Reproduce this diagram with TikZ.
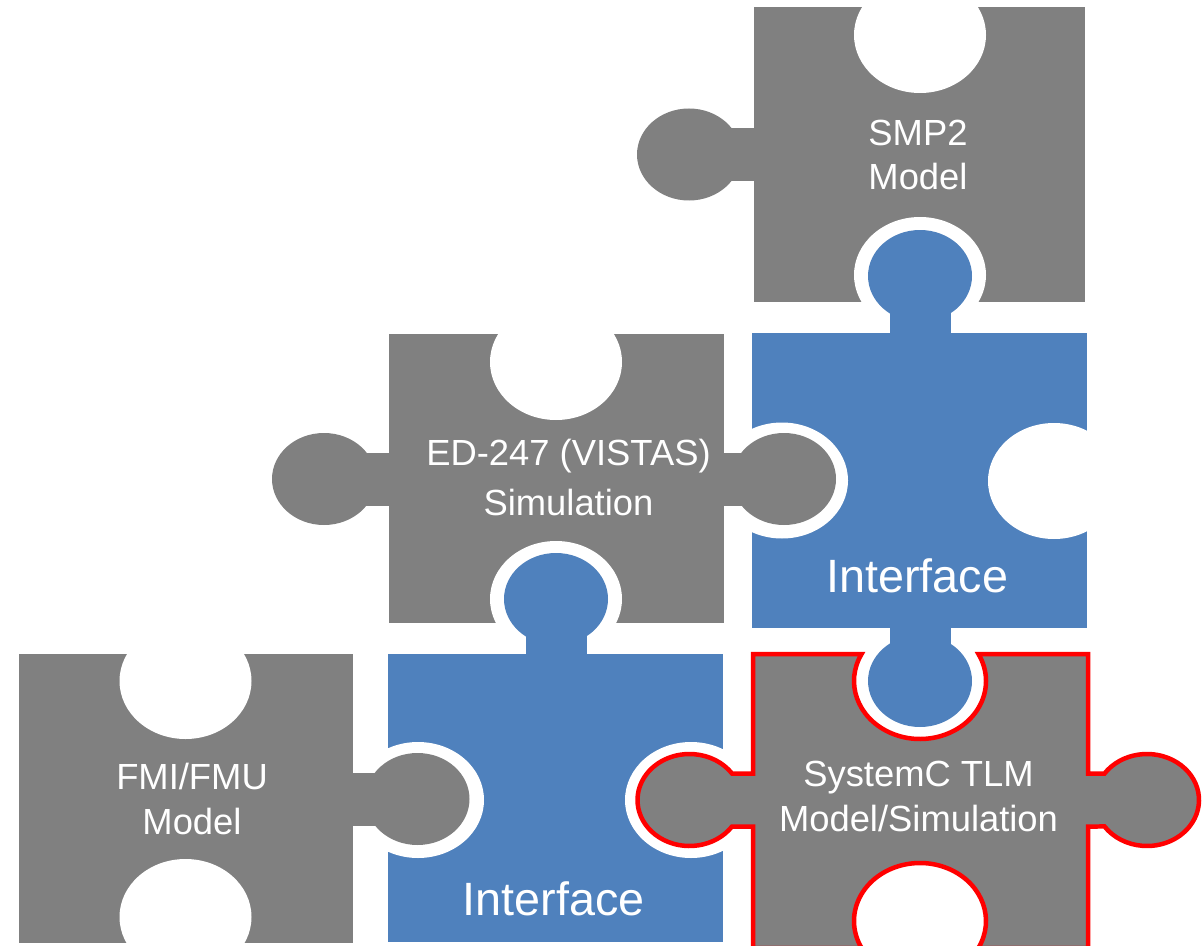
\documentclass[tikz,border=0pt]{standalone}
\usepackage{fontspec}
\setmainfont{Liberation Sans}
\usepackage{xcolor}
\definecolor{pgray}{RGB}{128,128,128}
\definecolor{pblue}{RGB}{79,129,189}
\definecolor{pred}{RGB}{255,0,0}

\begin{document}
\begin{tikzpicture}[x=0.02cm,y=-0.02cm,
	tabsize/.style={x radius=52,y radius=46},
	holesize/.style={x radius=66,y radius=58},
	label/.style={text=white,align=center,font=\fontsize{20.7}{25.5}\selectfont},
	iface/.style={text=white,anchor=base,font=\fontsize{26.6}{32}\selectfont}]
	\useasboundingbox (0,0) rectangle (1204,946);

	\begin{scope}
		\clip (754,7) rectangle (1085,302);
		\fill[pgray] (754,7) rectangle (1085,302);
		\fill[white] (920,35) ellipse [holesize] (920,275) ellipse [holesize];
	\end{scope}
	\begin{scope}
		\clip (752,333) rectangle (1087,628);
		\fill[pblue] (752,333) rectangle (1087,628);
		\fill[white] (782,480.5) ellipse [holesize] (1054,481) ellipse [holesize];
	\end{scope}
	\begin{scope}
		\clip (389,334) rectangle (724,623);
		\fill[pgray] (389,334) rectangle (724,623);
		\fill[white] (556,362) ellipse [holesize] (556,599) ellipse [holesize];
	\end{scope}
	\begin{scope}
		\clip (19,654) rectangle (353,943);
		\fill[pgray] (19,654) rectangle (353,943);
		\fill[white] (185.5,681) ellipse [holesize] (185.5,917) ellipse [holesize];
	\end{scope}
	\begin{scope}
		\clip (388,654) rectangle (723,942);
		\fill[pblue] (388,654) rectangle (723,942);
		\fill[white] (418,800) ellipse [holesize] (691,800) ellipse [holesize];
	\end{scope}

	\fill[pgray] (689,154.5) ellipse [tabsize];
	\fill[pgray] (689,128) rectangle (754,181);
	\fill[pblue] (920,276) ellipse [tabsize];
	\fill[pblue] (889.5,276) rectangle (950.5,333);
	\fill[pblue] (920,681) ellipse [tabsize];
	\fill[pblue] (889.5,628) rectangle (950.5,681);
	\fill[pgray] (324,479) ellipse [tabsize];
	\fill[pgray] (324,452.5) rectangle (389,505.5);
	\fill[pgray] (784,479) ellipse [tabsize];
	\fill[pgray] (724,452.5) rectangle (784,505.5);
	\fill[pblue] (556,599) ellipse [tabsize];
	\fill[pblue] (525.5,599) rectangle (586.5,654);
	\fill[pgray] (417.5,799) ellipse [tabsize];
	\fill[pgray] (353,772.5) rectangle (417.5,825.5);

	\draw[fill=pgray,draw=pred,line width=0.09cm] (753,654) -- (861.6,654)
		arc[start angle=207.74,end angle=-27.74,holesize] -- (1088,654) -- (1088,773.5) -- (1104.5,773.5)
		arc[start angle=-144.83,end angle=144.83,tabsize] -- (1088,826.5) -- (1088,948) -- (978.4,948)
		arc[start angle=27.74,end angle=-207.74,holesize] -- (753,948) -- (753,826.5) -- (732,826.5)
		arc[start angle=35.17,end angle=324.83,tabsize] -- (753,773.5) -- cycle;

	\node[label] (smp) at (918,155) {SMP2\\Model};
	\node[label,font=\fontsize{20.7}{28.3}\selectfont] (edsim) at (568.5,477.5) {ED-247 (VISTAS)\\Simulation};
	\node[label] (fmi) at (192,799) {FMI/FMU\\Model};
	\node[label] (sysc) at (918.5,796.5) {SystemC TLM\\Model/Simulation};
	\node[iface] (ifup) at (917.4,592.7) {Interface};
	\node[iface] (iflow) at (553.5,915) {Interface};
\end{tikzpicture}
\end{document}
